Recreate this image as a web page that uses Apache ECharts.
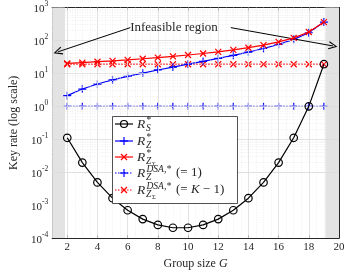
<!DOCTYPE html>
<html>
<head>
<meta charset="utf-8">
<script src="https://cdn.jsdelivr.net/npm/echarts@6/dist/echarts.min.js"></script>
<style>html,body{margin:0;padding:0;background:#fff}#c{width:357px;height:275px}</style>
</head>
<body>
<div id="c"></div>
<script>
// ---- data ----
var groupSize = [2,3,4,5,6,7,8,9,10,11,12,13,14,15,16,17,18,19];
var rS = [0.111,0.0196,0.0049,0.00163,0.0007,0.000377,0.000251,0.000206,0.000206,0.000251,0.000377,0.0007,0.00163,0.0049,0.0196,0.111,1,19];
var rZ = [2.11,3.35,4.75,6.33,8.14,10.2,12.7,15.5,19.0,23.2,28.5,35.3,44.3,57.0,76.0,108,171,361];
var rZSigma = [20.1,21.2,22.6,24.1,25.8,27.8,30.1,32.8,36.1,40.1,45.1,51.6,60.2,72.2,90.3,120,181,361];
var dsaZ = [1,1,1,1,1,1,1,1,1,1,1,1,1,1,1,1,1,1];
var dsaZSigma = [19,19,19,19,19,19,19,19,19,19,19,19,19,19,19,19,19,19];
var xTicks = [2,4,6,8,10,12,14,16,18,20];
var infeasibleLeft = [1, 1.85];
var infeasibleRight = [19.1, 20];
var annotationText = 'Infeasible region';

var SERIF = '"Liberation Serif","DejaVu Serif",serif';
var AX = '#262626';

function pairs(ys){ return groupSize.map(function(g,i){ return [g, ys[i]]; }); }

var PLUS = 'path://M0,5 L10,5 M5,0 L5,10';
var CROSS = 'path://M0,0 L10,10 M0,10 L10,0';
var CHEV = 'path://M5,0 L10,9 L8.8,9.6 L5,2.4 L1.2,9.6 L0,9 Z';

// grid lines (major + minor)
var gridLines = [];
xTicks.forEach(function(v){ if (v < 20) gridLines.push({xAxis: v, lineStyle:{color:'#dcdcdc', width:0.8, type:'solid'}}); });
for (var xv = 1.5; xv < 20; xv += 0.5) { if (xv % 2 !== 0) gridLines.push({xAxis: xv, lineStyle:{color:'#e4e4e4', width:0.6, type:[1,1.5]}}); }
for (var e = -4; e < 3; e++) {
  if (e > -4) gridLines.push({yAxis: Math.pow(10,e), lineStyle:{color:'#dcdcdc', width:0.8, type:'solid'}});
  for (var k = 2; k <= 9; k++) gridLines.push({yAxis: k*Math.pow(10,e), lineStyle:{color:'#e4e4e4', width:0.6, type:[1,1.5]}});
}

var chart = echarts.init(document.getElementById('c'), null, {renderer:'canvas'});

function lineSeries(name, ys, color, symbol, size, dotted, z) {
  return {
    name: name, type:'line', data: pairs(ys), z: z,
    symbol: symbol, symbolSize: size, showAllSymbol: true,
    lineStyle: {color: color, width: 1.2, type: dotted ? [1.5,1.5] : 'solid'},
    itemStyle: {color: symbol === 'circle' ? 'rgba(0,0,0,0)' : color, borderColor: color, borderWidth: 1.2},
    emphasis: {disabled: true}, animation: false
  };
}

var option = {
  animation: false,
  grid: {left: 42, top: 7, right: 18, bottom: 33, containLabel: false},
  xAxis: [{
    type:'value', min:1, max:20, interval:1,
    axisLine:{lineStyle:{color:AX, width:1}},
    axisTick:{inside:true, length:3, customValues: xTicks, lineStyle:{color:AX}},
    axisLabel:{customValues: xTicks, fontFamily:SERIF, fontSize:11, color:AX, margin:4},
    splitLine:{show:false},
    name:'Group size {i|G}', nameLocation:'middle', nameGap:13,
    nameTextStyle:{fontFamily:SERIF, fontSize:12, color:AX, rich:{i:{fontFamily:SERIF, fontStyle:'italic', fontSize:12, color:AX}}}
  },{
    type:'value', min:1, max:20, interval:1, position:'top',
    axisLine:{show:true, lineStyle:{color:AX, width:1}},
    axisTick:{inside:true, length:3, customValues: xTicks, lineStyle:{color:AX}},
    axisLabel:{show:false}, splitLine:{show:false}
  }],
  yAxis: [{
    type:'log', logBase:10, min:1e-4, max:1e3,
    axisLine:{show:true, lineStyle:{color:AX, width:1}},
    axisTick:{inside:true, length:3, lineStyle:{color:AX}},
    axisLabel:{
      margin:4, color:AX,
      formatter:function(v){ var ex = Math.round(Math.log10(v)); return '{b|10}{s|' + ex + '}'; },
      rich:{
        b:{fontFamily:SERIF, fontSize:11, color:AX, lineHeight:15, verticalAlign:'bottom'},
        s:{fontFamily:SERIF, fontSize:7.5, color:AX, lineHeight:15, verticalAlign:'top'}
      }
    },
    splitLine:{show:false},
    name:'Key rate (log scale)', nameLocation:'middle', nameGap:24, nameRotate:90,
    nameTextStyle:{fontFamily:SERIF, fontSize:12, color:AX}
  },{
    type:'log', logBase:10, min:1e-4, max:1e3, position:'right',
    axisLine:{show:true, lineStyle:{color:AX, width:1}},
    axisTick:{inside:true, length:3, lineStyle:{color:AX}},
    axisLabel:{show:false}, splitLine:{show:false}
  }],
  series: [
    {
      type:'line', data:[], z:1, silent:true,
      markLine:{silent:true, symbol:['none','none'], label:{show:false}, data: gridLines, animation:false}
    },
    {
      type:'line', data:[], z:2, silent:true,
      markArea:{silent:true, itemStyle:{color:'#e3e3e3'}, data:[
        [{xAxis: infeasibleLeft[0]}, {xAxis: infeasibleLeft[1]}],
        [{xAxis: infeasibleRight[0]}, {xAxis: infeasibleRight[1]}]
      ]}
    },
    lineSeries('dsaZ', dsaZ, '#0000ff', PLUS, 7, true, 3),
    lineSeries('dsaZSigma', dsaZSigma, '#ff0000', CROSS, 6, true, 3),
    lineSeries('rZ', rZ, '#0000ff', PLUS, 8, false, 4),
    lineSeries('rZSigma', rZSigma, '#ff0000', CROSS, 6, false, 5),
    lineSeries('rS', rS, '#000000', 'circle', 7.5, false, 6),
    {
      type:'line', data:[], z:7, silent:true,
      markLine:{silent:true, symbol:['none', CHEV], symbolSize:[8,9], label:{show:false},
        lineStyle:{color:'#000', width:1, type:'solid'},
        data:[
          [{coord:[6.18, 245]}, {coord:[1.38, 45]}],
          [{coord:[12.83, 245]}, {coord:[19.6, 68]}]
        ]}
    }
  ],
  graphic: []
};

// annotation text + legend
var G = [];
G.push({type:'text', x:174, y:28, z:100, style:{text:annotationText, font:'13px ' + SERIF, fill:'#262626', align:'center', verticalAlign:'middle'}});

var LX0 = 112, LY0 = 116, LX1 = 237, LY1 = 203;
G.push({type:'rect', z:100, shape:{x:LX0+0.5, y:LY0+0.5, width:LX1-LX0, height:LY1-LY0}, style:{fill:'#fff', stroke:'#262626', lineWidth:0.8}});
var rows = [
  {c:124, color:'#000', marker:'circle', dotted:false, sup:'*', sub:'S', subsub:'', tail:''},
  {c:141, color:'#0000ff', marker:'plus', dotted:false, sup:'*', sub:'Z', subsub:'', tail:''},
  {c:157, color:'#ff0000', marker:'cross', dotted:false, sup:'*', sub:'Z', subsub:'Σ', tail:''},
  {c:173, color:'#0000ff', marker:'plus', dotted:true, sup:'DSA,*', sub:'Z', subsub:'', tail:'(= 1)'},
  {c:190, color:'#ff0000', marker:'cross', dotted:true, sup:'DSA,*', sub:'Z', subsub:'Σ', tail:'(= {i|K} − 1)'}
];
rows.forEach(function(r){
  G.push({type:'line', z:101, shape:{x1:115, y1:r.c, x2:133, y2:r.c}, style:{stroke:r.color, lineWidth:1.2, lineDash: r.dotted ? [1.5,1.5] : null}});
  if (r.marker === 'circle') G.push({type:'circle', z:102, shape:{cx:124, cy:r.c, r:3.5}, style:{fill:'none', stroke:r.color, lineWidth:1.2}});
  if (r.marker === 'plus') {
    G.push({type:'line', z:102, shape:{x1:120, y1:r.c, x2:128, y2:r.c}, style:{stroke:r.color, lineWidth:1.2}});
    G.push({type:'line', z:102, shape:{x1:124, y1:r.c-4, x2:124, y2:r.c+4}, style:{stroke:r.color, lineWidth:1.2}});
  }
  if (r.marker === 'cross') {
    G.push({type:'line', z:102, shape:{x1:121, y1:r.c-3, x2:127, y2:r.c+3}, style:{stroke:r.color, lineWidth:1.3}});
    G.push({type:'line', z:102, shape:{x1:121, y1:r.c+3, x2:127, y2:r.c-3}, style:{stroke:r.color, lineWidth:1.3}});
  }
  G.push({type:'text', z:102, x:137, y:r.c, style:{text:'R', font:'italic 13.5px ' + SERIF, fill:'#262626', verticalAlign:'middle'}});
  G.push({type:'text', z:102, x:146.5, y:r.c-4, style:{text:r.sup, font:(r.sup === '*' ? '' : 'italic ') + '9.5px ' + SERIF, fill:'#262626', verticalAlign:'middle'}});
  G.push({type:'text', z:102, x:146, y:r.c+4.5, style:{text:r.sub, font:'italic 9.5px ' + SERIF, fill:'#262626', verticalAlign:'middle'}});
  if (r.subsub) G.push({type:'text', z:102, x:152, y:r.c+7.5, style:{text:r.subsub, font:'6.5px ' + SERIF, fill:'#262626', verticalAlign:'middle'}});
  if (r.tail) G.push({type:'text', z:102, x:176, y:r.c, style:{text:r.tail, font:'13px ' + SERIF, fill:'#262626', verticalAlign:'middle', rich:{i:{fontStyle:'italic', fontSize:13, fontFamily:SERIF, fill:'#262626'}}}});
});
option.graphic = G;

chart.setOption(option);
</script>
</body>
</html>
